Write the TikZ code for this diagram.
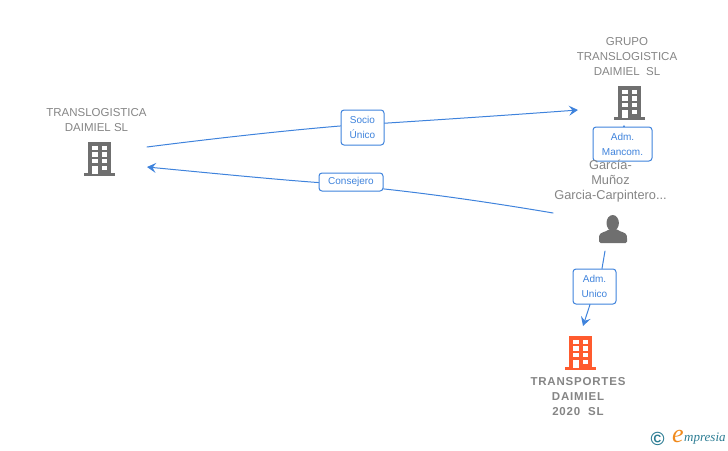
\documentclass[tikz,border=0pt]{standalone}
\usepackage{fontspec}
\setmainfont{Liberation Sans}
\newfontfamily\logofont{Liberation Serif}
\usetikzlibrary{arrows.meta}
\definecolor{linkblue}{HTML}{3F83DC}
\definecolor{namegrey}{HTML}{858585}
\definecolor{icongrey}{HTML}{6F6F6F}
\definecolor{iconorange}{HTML}{FF5B2E}
\definecolor{logoteal}{HTML}{2B7C93}
\definecolor{logoorange}{HTML}{F08A1D}
\tikzset{
  link/.style={linkblue,line width=1pt,line cap=round},
  linktip/.style={-{Stealth[length=9pt,width=10pt,inset=3.5pt]}},
  role/.style={draw=linkblue,line width=1pt,rounded corners=3pt,fill=white,
    text=linkblue,font=\fontsize{10}{15}\selectfont,align=center,inner sep=0pt},
  firm/.style={text=namegrey,font=\fontsize{11.5}{15}\selectfont,align=center,inner sep=0pt},
  building/.pic={
    \fill[pic actions] (-11.5,-17) rectangle (11.5,15);
    \fill[pic actions] (-15.5,14.5) rectangle (15.5,17.5);
    \foreach \wx in {-7.3,2.2}{
      \foreach \wy in {-13,-6.5,0}
        \fill[white] (\wx,\wy) rectangle ++(5.3,4.5);
    }
    \fill[white] (-7.3,7) rectangle ++(5.3,8);
    \fill[white] (2.2,7) rectangle ++(5.3,4.5);
  }
}
\begin{document}
\begin{tikzpicture}[x=1pt,y=-1pt]
  \useasboundingbox (0,0) rectangle (728,450);
  % companies
  \node[firm] (tdaimiel) at (96.5,120) {TRANSLOGISTICA\\DAIMIEL SL};
  \pic[fill=icongrey] at (99.5,158.5) {building};
  \node[firm] (grupo) at (627,56.5) {GRUPO\\TRANSLOGISTICA\\DAIMIEL\ \ SL};
  \pic[fill=icongrey] at (629.5,102.5) {building};
  \pic[fill=iconorange] at (580.5,352.5) {building};
  \node[firm,font=\fontsize{11.5}{15}\selectfont\bfseries\addfontfeature{LetterSpace=7}] (transportes) at (578,397) {TRANSPORTES\\DAIMIEL\\2020\ \ SL};
  % end points
  \coordinate (sociostart) at (147,147);
  \coordinate (sociotip) at (578,110);
  \coordinate (consejerotip) at (147,167);
  \coordinate (consejerostart) at (553,213);
  \coordinate (mancomstart) at (624,140);
  \coordinate (mancomtip) at (624,125);
  \coordinate (unicostart) at (605,251);
  \coordinate (unicotip) at (583,326);
  % this one is nearly all behind its label
  \draw[link,linktip] (mancomstart) -- (mancomtip);
  % role labels
  \node[role,minimum width=43pt,minimum height=35pt] (socio) at (362.5,127.5) {Socio\\Único};
  \node[role,minimum width=64pt,minimum height=18pt] (consejero) at (351,182) {Consejero};
  \node[role,minimum width=59pt,minimum height=34pt] (mancom) at (622.5,144) {Adm.\\Mancom.};
  \node[role,minimum width=43pt,minimum height=35pt] (unico) at (594.5,286.5) {Adm.\\Unico};
  % links
  \draw[link] (sociostart) .. controls (210,139) and (280,131) .. (socio.176);
  \draw[link,linktip] (socio.11) .. controls (450,119) and (510,115) .. (sociotip);
  \draw[link] (consejerostart) .. controls (500,204) and (440,195) .. (consejero.-12);
  \draw[link,linktip] (consejero.181) .. controls (270,179) and (210,173) .. (consejerotip);
  \draw[link] (unicostart) -- (unico.north-|602,0);
  \draw[link,linktip] (unico.south-|590,0) -- (unicotip);
  % person, its name lies over the label
  \node[firm,font=\fontsize{12.8}{15}\selectfont] (persona) at (610.5,181) {García-\\Muñoz\\Garcia-Carpintero...};
  \fill[icongrey,rounded corners=1.5pt] (599,243) -- (599,237) .. controls (600,232) and (606,232) .. (609,229)
    -- (617,229) .. controls (620,232) and (626,232) .. (627,237) -- (627,243) -- cycle;
  \fill[icongrey] (612.7,223) ellipse (6.2 and 8);
  % logo
  \node[inner sep=0pt,text=logoteal,font=\fontsize{19}{20}\selectfont\bfseries] (copyright) at (657.5,438.5) {©};
  \node[inner sep=0pt,text=logoorange,font=\fontsize{26}{26}\selectfont\logofont\itshape] (logoe) at (678,436) {e};
  \node[inner sep=0pt,text=logoteal,font=\fontsize{13}{15}\selectfont\logofont\itshape,anchor=west] (logoname) at (684,439) {mpresia};
\end{tikzpicture}
\end{document}
